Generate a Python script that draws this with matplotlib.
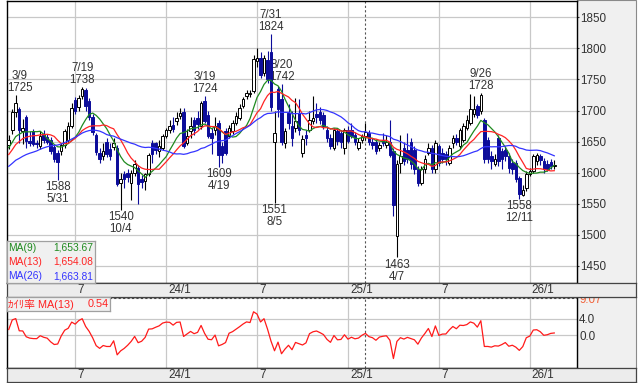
import numpy as np
import pandas as pd
import matplotlib
matplotlib.use("Agg")
import matplotlib.pyplot as plt
from matplotlib.patches import Rectangle
from matplotlib import transforms

plt.rcParams["font.family"] = ["Liberation Sans", "Noto Sans CJK JP", "DejaVu Sans"]

# ---------------- data (weekly candles) ----------------
first_week_end = "2023-02-24"

opens = [1645, 1668, 1698, 1703, 1667, 1690, 1651, 1667, 1648, 1642,
         1662, 1658, 1653, 1641, 1632, 1634, 1644, 1652, 1675, 1717,
         1706, 1723, 1733, 1716, 1690, 1660, 1631, 1626, 1650, 1638,
         1641, 1640, 1583, 1598, 1600, 1583, 1599, 1607, 1590, 1586,
         1597, 1648, 1647, 1634, 1640, 1659, 1668, 1676, 1683, 1691,
         1697, 1648, 1667, 1684, 1688, 1675, 1715, 1693, 1664, 1669,
         1680, 1642, 1667, 1659, 1667, 1680, 1688, 1707, 1723, 1726,
         1731, 1780, 1785, 1760, 1782, 1795, 1650, 1734, 1718, 1648,
         1696, 1675, 1672, 1696, 1631, 1660, 1669, 1683, 1695, 1698,
         1692, 1669, 1656, 1640, 1667, 1664, 1640, 1669, 1669, 1661,
         1640, 1653, 1659, 1664, 1650, 1650, 1640, 1652, 1645, 1650,
         1634, 1497, 1616, 1640, 1637, 1650, 1637, 1605, 1583, 1605,
         1632, 1640, 1605, 1642, 1632, 1630, 1616, 1648, 1656, 1642,
         1653, 1672, 1680, 1694, 1707, 1700, 1685, 1653, 1626, 1614,
         1656, 1634, 1637, 1626, 1616, 1616, 1591, 1564, 1575, 1597,
         1602, 1618, 1626, 1618, 1614, 1617, 1610]
highs = [1660, 1703, 1725, 1706, 1686, 1693, 1667, 1670, 1652, 1667,
         1668, 1662, 1658, 1645, 1636, 1648, 1670, 1681, 1712, 1722,
         1725, 1738, 1737, 1720, 1695, 1663, 1640, 1648, 1655, 1648,
         1655, 1645, 1600, 1602, 1606, 1604, 1620, 1612, 1596, 1600,
         1632, 1652, 1650, 1652, 1662, 1672, 1685, 1690, 1698, 1704,
         1704, 1670, 1690, 1690, 1700, 1716, 1724, 1700, 1672, 1690,
         1685, 1650, 1672, 1676, 1684, 1697, 1710, 1722, 1733, 1733,
         1790, 1801, 1795, 1790, 1796, 1824, 1700, 1740, 1742, 1672,
         1710, 1700, 1720, 1718, 1660, 1668, 1700, 1723, 1712, 1705,
         1698, 1675, 1662, 1672, 1672, 1668, 1672, 1675, 1680, 1666,
         1655, 1662, 1680, 1668, 1655, 1654, 1650, 1663, 1661, 1685,
         1640, 1620, 1660, 1650, 1664, 1655, 1642, 1610, 1610, 1628,
         1647, 1645, 1652, 1646, 1640, 1634, 1645, 1660, 1662, 1672,
         1680, 1692, 1726, 1723, 1710, 1728, 1688, 1658, 1635, 1630,
         1660, 1640, 1642, 1632, 1622, 1620, 1595, 1580, 1602, 1608,
         1630, 1632, 1630, 1624, 1620, 1622, 1620]
lows = [1638, 1662, 1690, 1648, 1646, 1640, 1643, 1642, 1640, 1638,
        1648, 1646, 1630, 1617, 1588, 1628, 1640, 1648, 1672, 1695,
        1700, 1718, 1700, 1685, 1660, 1628, 1615, 1620, 1625, 1620,
        1636, 1578, 1540, 1575, 1585, 1556, 1595, 1550, 1575, 1572,
        1594, 1615, 1630, 1625, 1636, 1655, 1664, 1665, 1676, 1686,
        1640, 1645, 1655, 1660, 1670, 1670, 1680, 1655, 1630, 1660,
        1609, 1615, 1628, 1655, 1662, 1676, 1684, 1704, 1718, 1722,
        1728, 1770, 1752, 1755, 1745, 1700, 1551, 1690, 1645, 1640,
        1670, 1643, 1665, 1660, 1625, 1645, 1665, 1678, 1680, 1678,
        1670, 1650, 1638, 1636, 1645, 1640, 1630, 1648, 1655, 1645,
        1636, 1648, 1652, 1645, 1638, 1630, 1635, 1642, 1640, 1625,
        1530, 1463, 1600, 1612, 1615, 1605, 1598, 1578, 1580, 1600,
        1628, 1600, 1600, 1610, 1615, 1612, 1612, 1640, 1645, 1638,
        1650, 1668, 1676, 1690, 1688, 1695, 1615, 1615, 1605, 1610,
        1610, 1605, 1618, 1600, 1598, 1585, 1558, 1562, 1570, 1594,
        1600, 1612, 1612, 1600, 1602, 1606, 1606]
closes = [1652, 1698, 1712, 1668, 1672, 1651, 1647, 1646, 1646, 1659,
          1653, 1650, 1634, 1621, 1617, 1644, 1667, 1675, 1704, 1700,
          1720, 1735, 1707, 1690, 1665, 1633, 1622, 1635, 1630, 1627,
          1648, 1582, 1590, 1590, 1592, 1599, 1613, 1582, 1584, 1597,
          1629, 1630, 1637, 1642, 1659, 1669, 1675, 1670, 1688, 1696,
          1643, 1659, 1675, 1669, 1678, 1712, 1683, 1659, 1656, 1675,
          1628, 1629, 1632, 1672, 1680, 1691, 1704, 1718, 1728, 1729,
          1783, 1784, 1758, 1784, 1750, 1705, 1664, 1702, 1650, 1667,
          1680, 1656, 1683, 1669, 1654, 1655, 1685, 1688, 1690, 1685,
          1675, 1656, 1642, 1669, 1651, 1650, 1669, 1651, 1659, 1650,
          1650, 1659, 1665, 1650, 1645, 1634, 1645, 1648, 1650, 1629,
          1548, 1613, 1626, 1618, 1622, 1613, 1605, 1583, 1605, 1621,
          1640, 1605, 1648, 1616, 1622, 1622, 1640, 1656, 1650, 1669,
          1675, 1685, 1702, 1702, 1693, 1725, 1621, 1621, 1618, 1622,
          1618, 1622, 1627, 1607, 1605, 1589, 1566, 1572, 1597, 1602,
          1626, 1628, 1620, 1605, 1606, 1610, 1612]

# weekly closes just before the visible window (estimated from the MA starting levels)
closes_before = [1575, 1580, 1590, 1585, 1578, 1592, 1600, 1595, 1588, 1596,
                 1602, 1598, 1604, 1598, 1602, 1606, 1611, 1620, 1628, 1635,
                 1642, 1645, 1648, 1642, 1648]

ma_periods = [9, 13, 26]
ma_colors = ["#1f8a1f", "#ff2424", "#3434ff"]
legend_labels = ["MA(9)", "MA(13)", "MA(26)"]
legend_values = ["1,653.67", "1,654.08", "1,663.81"]
kairi_label = "ｶｲﾘ率 MA(13)"
kairi_value = "0.54"
kairi_max_label = "9.07"
kairi_max = 9.07
kairi_ticks = [0.0, 4.0]

price_ticks = [1450, 1500, 1550, 1600, 1650, 1700, 1750, 1800, 1850]
month_labels = ["7", "24/1", "7", "25/1", "7", "26/1"]
high_mark_dates = ["2023-03-09", "2023-07-19", "2024-03-19", "2024-07-31",
                   "2024-08-20", "2025-09-26"]
low_mark_dates = ["2023-05-31", "2023-10-04", "2024-04-19", "2024-08-05",
                  "2025-04-07", "2025-12-11"]
cursor_date = "2025-02-07"

# ---------------- derived ----------------
n = len(closes)
x = np.arange(n)
dates = pd.date_range(first_week_end, periods=n, freq="W-FRI")
o = np.array(opens, float); h = np.array(highs, float)
l = np.array(lows, float); c = np.array(closes, float)
allc = pd.Series(closes_before + closes, dtype=float)
nb = len(closes_before)
ma = {p: allc.rolling(p).mean().to_numpy()[nb:] for p in ma_periods}
kairi = (c - ma[13]) / ma[13] * 100.0

months = np.asarray(dates.month)
new_month = np.r_[False, months[1:] != months[:-1]]
grid_idx = [i for i in range(n) if new_month[i] and months[i] in (1, 7)]
cursor_idx = int(dates.searchsorted(pd.Timestamp(cursor_date)))

# ---------------- figure ----------------
W, H, DPI = 640, 383, 100
fig = plt.figure(figsize=(W / DPI, H / DPI), dpi=DPI)
fig.patch.set_facecolor("white")


def box(x0, y0, x1, y1):
    return [x0 / W, 1 - y1 / H, (x1 - x0) / W, (y1 - y0) / H]


GRID = "#c8c8c8"
TXT = "#333333"
BLUE = "#0c0c9a"
XL = (-0.5, 162.5)

# gray right panels
for (y0, y1) in [(0, 283), (296.5, 368)]:
    fig.add_artist(Rectangle((577 / W, 1 - y1 / H), (636 - 577) / W, (y1 - y0) / H,
                             transform=fig.transFigure, facecolor="#f0f0f0",
                             edgecolor="#8a8a8a", lw=0.8, zorder=0))

ax = fig.add_axes(box(7, 1, 577, 283), zorder=1)
axb = fig.add_axes(box(7, 296.5, 577, 368), zorder=1)
s1 = fig.add_axes(box(7, 283, 636, 296.5), zorder=3)
s2 = fig.add_axes(box(7, 368, 636, 382), zorder=3)

# --- main panel ---
ax.set_xlim(*XL)
ax.set_ylim(1421.8, 1876.6)
for yv in price_ticks:
    ax.axhline(yv, color=GRID, lw=0.9, zorder=0)
for gi in grid_idx:
    ax.axvline(gi, color=GRID, lw=0.9, zorder=0)
ax.axvline(cursor_idx, color="#555555", lw=0.8, ls=(0, (2, 2)), zorder=1)

up = c >= o
bb = np.minimum(o, c)
bh = np.maximum(np.abs(c - o), 0.8)
ax.vlines(x[up], l[up], h[up], color="black", lw=0.8, zorder=3)
ax.vlines(x[~up], l[~up], h[~up], color=BLUE, lw=0.8, zorder=3)
ax.bar(x[up], bh[up], bottom=bb[up], width=0.72, facecolor="white",
       edgecolor="black", lw=0.7, zorder=4)
ax.bar(x[~up], bh[~up], bottom=bb[~up], width=0.72, facecolor=BLUE,
       edgecolor=BLUE, lw=0.7, zorder=4)

for p, col in zip(ma_periods, ma_colors):
    ax.plot(x, ma[p], color=col, lw=0.9, zorder=5)

ax.yaxis.tick_right()
ax.set_yticks(price_ticks)
ax.set_yticklabels([str(v) for v in price_ticks])
ax.tick_params(axis="y", length=1.6, width=0.8, color=TXT, pad=0.6,
               labelsize=8.4, labelcolor=TXT)
ax.set_xticks([])
for sp in ax.spines.values():
    sp.set_color("black"); sp.set_linewidth(1.0)

ann = []
for d in high_mark_dates:
    i = int(dates.searchsorted(pd.Timestamp(d)))
    t = pd.Timestamp(d)
    a = ax.annotate(f"{t.month}/{t.day}\n{int(h[i])}", xy=(i, h[i]), xytext=(0, 0.8),
                    textcoords="offset points", ha="center", va="bottom",
                    fontsize=8.3, color=TXT, linespacing=1.0, zorder=2)
    ann.append(a)
for d in low_mark_dates:
    i = int(dates.searchsorted(pd.Timestamp(d)))
    t = pd.Timestamp(d)
    a = ax.annotate(f"{int(l[i])}\n{t.month}/{t.day}", xy=(i, l[i]), xytext=(0, -1.0),
                    textcoords="offset points", ha="center", va="top",
                    fontsize=8.3, color=TXT, linespacing=1.0, zorder=2)
    ann.append(a)

# legend box (main)
lg = fig.add_axes(box(7, 241, 95, 283), zorder=5)
lg.set_facecolor("#f0f0f0")
lg.set_xticks([]); lg.set_yticks([])
for sp in lg.spines.values():
    sp.set_color("#a0a0a0"); sp.set_linewidth(0.9)
for k, (lab, val, col) in enumerate(zip(legend_labels, legend_values, ma_colors)):
    yy = [0.845, 0.5, 0.155][k]
    lg.text(0.015, yy, lab, color=col, fontsize=7.4, ha="left", va="center",
            transform=lg.transAxes)
    lg.text(0.98, yy, val, color=col, fontsize=7.4, ha="right", va="center",
            transform=lg.transAxes)

# --- bottom panel ---
axb.set_xlim(*XL)
axb.set_ylim(-7.96, 9.44)
for yv in kairi_ticks:
    axb.axhline(yv, color=GRID, lw=0.9, zorder=0)
for gi in grid_idx:
    axb.axvline(gi, color=GRID, lw=0.9, zorder=0)
axb.axhline(kairi_max, color="#555555", lw=0.8, ls=(0, (2, 2)), zorder=1)
axb.axvline(cursor_idx, color="#555555", lw=0.8, ls=(0, (2, 2)), zorder=1)
axb.plot(x, kairi, color="#ff1a1a", lw=0.9, zorder=3)
axb.yaxis.tick_right()
axb.set_yticks(kairi_ticks + [kairi_max])
axb.set_yticklabels([f"{v:.1f}" for v in kairi_ticks] + [kairi_max_label])
axb.tick_params(axis="y", length=0, pad=1.6, labelsize=8.4, labelcolor=TXT)
axb.get_yticklabels()[-1].set_color("#f0643c")
axb.set_xticks([])
for sp in axb.spines.values():
    sp.set_color("black"); sp.set_linewidth(1.0)

lg2 = fig.add_axes(box(7, 297, 110, 310.5), zorder=5)
lg2.set_facecolor("#f0f0f0")
lg2.set_xticks([]); lg2.set_yticks([])
for sp in lg2.spines.values():
    sp.set_color("#a0a0a0"); sp.set_linewidth(0.9)
lg2.text(0.01, 0.45, kairi_label, color="#ff2020", fontsize=7.8, ha="left",
         va="center", transform=lg2.transAxes)
lg2.text(0.985, 0.45, kairi_value, color="#ff2020", fontsize=7.8, ha="right",
         va="center", transform=lg2.transAxes)

# --- date strips ---
for s in (s1, s2):
    s.set_facecolor("#ececec")
    s.set_xticks([]); s.set_yticks([])
    for sp in s.spines.values():
        sp.set_color("#444444"); sp.set_linewidth(0.9)
    tr = transforms.blended_transform_factory(ax.transData, s.transAxes)
    tr = transforms.offset_copy(tr, fig=fig, x=2.0, y=0, units="dots")
    for gi, lab in zip(grid_idx, month_labels):
        s.text(gi, 0.5, lab, transform=tr, ha="left", va="center",
               fontsize=8.4, color=TXT)

# keep annotation labels inside the plot area
fig.canvas.draw()
r = fig.canvas.get_renderer()
axbb = ax.get_window_extent(r)
for a in ann:
    ext = a.get_window_extent(r)
    if ext.x0 < axbb.x0:
        dx = (axbb.x0 - ext.x0) * 72.0 / DPI
        a.xyann = (a.xyann[0] + dx, a.xyann[1])

fig.savefig("out.png", dpi=DPI)
